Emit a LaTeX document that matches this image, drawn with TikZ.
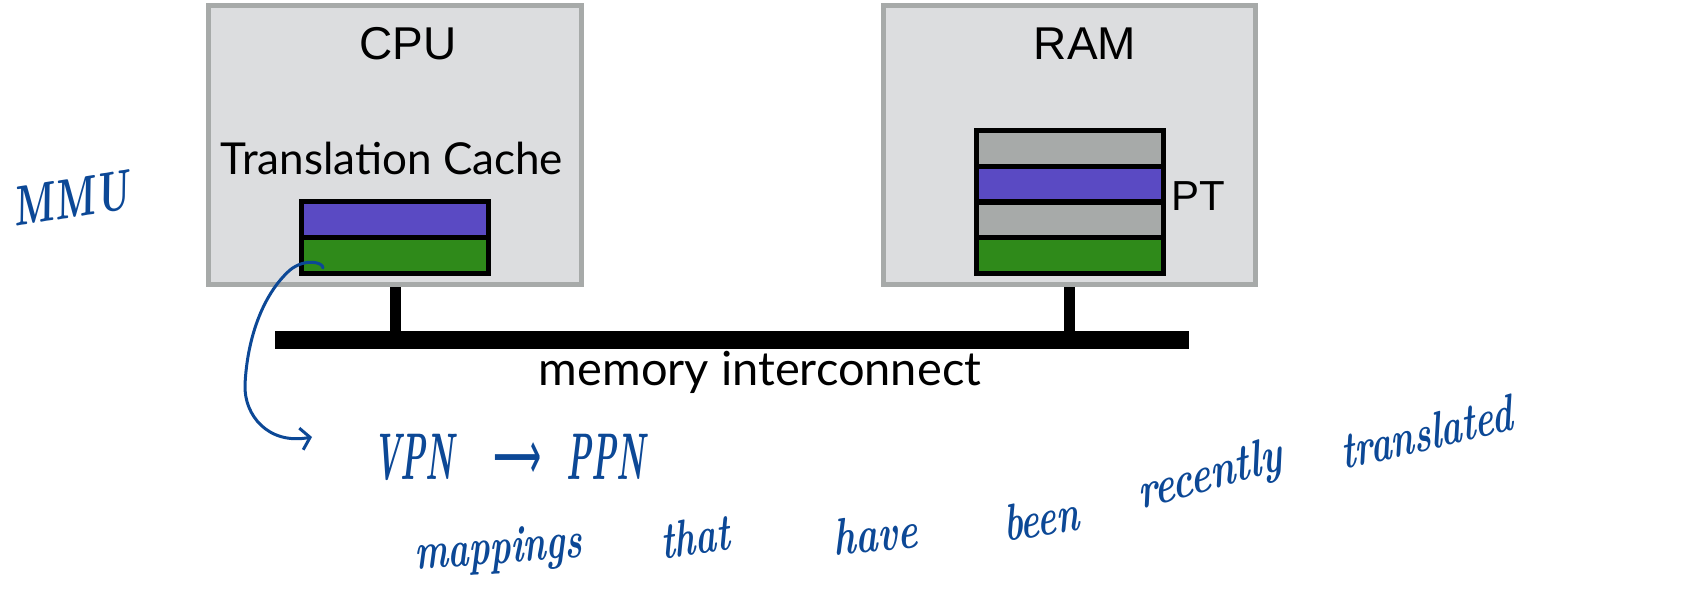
\documentclass[tikz,border=0pt]{standalone}
\usepackage{fontspec}
\newfontfamily\arialfont{Liberation Sans}
\newfontfamily\gillfont{Lato}
\newfontfamily\arrowfont{DejaVu Sans}
\usetikzlibrary{arrows.meta}

\definecolor{boxfill}{RGB}{220,221,223}
\definecolor{boxline}{RGB}{167,170,169}
\definecolor{rowgray}{RGB}{167,170,169}
\definecolor{rowpurple}{RGB}{90,74,195}
\definecolor{rowgreen}{RGB}{47,138,26}
\definecolor{ink}{RGB}{12,72,150}

% pen-like lettering at a given size
\newcommand\handink[1]{\bfseries\itshape\fontsize{#1}{#1}\selectfont}

\tikzset{
  unitbox/.style={draw=boxline, fill=boxfill, line width=5pt, inner sep=0pt,
    minimum width=373pt, minimum height=279pt},
  entry/.style={draw=black, line width=5pt, inner sep=0pt,
    minimum width=187pt},
  stem/.style={line width=11pt, draw=black},
  label/.style={font=\arialfont\fontsize{46}{50}\selectfont, anchor=base},
  gill/.style={font=\gillfont\fontsize{44}{48}\selectfont, anchor=base},
  hand/.style={text=ink, font=\handink{52}, inner sep=0pt, anchor=base west},
  word/.style={hand, xscale=0.68},
  pen/.style={draw=ink, line width=3pt, line cap=round},
}

\begin{document}
\begin{tikzpicture}[x=1pt,y=-1pt]
\useasboundingbox (0,0) rectangle (1687,599);

% processor and memory units
\node[unitbox] (cpu) at (395,145) {};
\node[unitbox, minimum width=372pt] (ram) at (1069.5,145) {};

\node[label] (cpulbl) at (408,60) {CPU};
\node[label] (ramlbl) at (1085,60) {RAM};

% translation cache entries
\node[gill] (tclbl) at (392,175) {Translation Cache};
\node[entry, fill=rowpurple, minimum height=35.5pt] (tcA) at (395,219.3) {};
\node[entry, fill=rowgreen, minimum height=36.5pt] (tcB) at (395,255.3) {};

% page table entries
\node[entry, fill=rowgray, minimum height=35.75pt] (ptA) at (1070,148.4) {};
\node[entry, fill=rowpurple, minimum height=35.75pt] (ptB) at (1070,184.1) {};
\node[entry, fill=rowgray, minimum height=35.75pt] (ptC) at (1070,219.9) {};
\node[entry, fill=rowgreen, minimum height=35.75pt] (ptD) at (1070,255.6) {};
\node[label, anchor=base west, font=\arialfont\fontsize{42}{46}\selectfont, inner sep=0pt] (ptlbl) at (1171,210) {PT};

% interconnect
\node[fill=black, inner sep=0pt, minimum width=914pt, minimum height=18pt] (bus) at (732,340) {};
\draw[stem] (cpu.south) -- (cpu.south |- bus.north);
\draw[stem] (ram.south) -- (ram.south |- bus.north);
\node[gill, font=\gillfont\fontsize{47}{50}\selectfont] (buslbl) at (760,385) {memory interconnect};

% handwritten notes
\node[hand, rotate=9, font=\handink{56}, xscale=0.70] (mmu) at (14,227) {MMU};
\node[hand, font=\handink{66}, xscale=0.48] (vpn) at (373,479)
  {VPN\hspace{82pt}{\arrowfont\fontsize{70}{70}\selectfont\mdseries\upshape ⟶}\hspace{52pt}PPN};
\node[word, rotate=3] (w1) at (415,570) {mappings};
\node[word, rotate=6] (w2) at (662,560) {that};
\node[word, rotate=4, xscale=1.06] (w3) at (834,556) {have};
\node[word, rotate=6] (w4) at (1005,542) {been};
\node[word, rotate=11, xscale=1.08] (w5) at (1140,510) {recently};
\node[word, rotate=9] (w6) at (1343,470) {translated};

\coordinate (hookstart) at (323,268);
\coordinate (hookend) at (312,437);
\draw[pen, -{Straight Barb[length=9pt,width=22pt,line width=3pt]}]
  (hookstart) .. controls (323,262) and (305,258) .. (290,270)
  .. controls (262,295) and (247,340) .. (245,385)
  .. controls (244,415) and (268,445) .. (hookend);
\end{tikzpicture}
\end{document}
